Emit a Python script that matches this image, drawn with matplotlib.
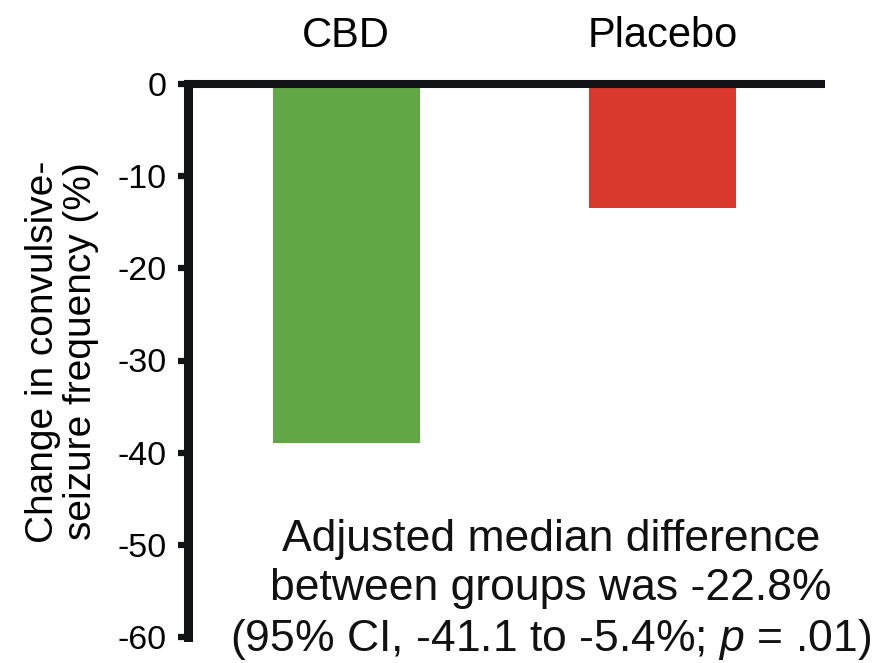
import matplotlib
matplotlib.use("Agg")
import matplotlib.pyplot as plt

# data
groups = ["CBD", "Placebo"]
change = [-38.9, -13.4]
bar_colors = ["#62A745", "#D9392C"]
yticks = [0, -10, -20, -30, -40, -50, -60]

ylabel = "Change in convulsive-\nseizure frequency (%)"
note = ("Adjusted median difference\n"
        "between groups was -22.8%\n"
        "(95% CI, -41.1 to -5.4%; $p$ = .01)")

plt.rcParams["font.family"] = ["Liberation Sans", "DejaVu Sans"]
plt.rcParams["mathtext.fontset"] = "custom"
plt.rcParams["mathtext.rm"] = "Liberation Sans"
plt.rcParams["mathtext.it"] = "Liberation Sans:italic"

fig = plt.figure(figsize=(8.96, 6.63), dpi=100)
ax = fig.add_axes([188 / 896, 1 - 637 / 663, 633 / 896, 553 / 663])

x = list(range(len(groups)))
ax.bar(x, change, width=0.465, color=bar_colors, zorder=1)

ax.set_xlim(-0.5, 1.5)
ax.set_ylim(-60, 0)

# axis lines: thick left + top (zero line)
for side in ("right", "bottom"):
    ax.spines[side].set_visible(False)
ax.spines["left"].set_linewidth(6.5)
ax.spines["top"].set_linewidth(5.8)
for side in ("left", "top"):
    ax.spines[side].set_color("#111316")
    ax.spines[side].set_capstyle("projecting")
    ax.spines[side].set_zorder(3)

ax.set_yticks(yticks)
ax.set_yticklabels([str(v) for v in yticks])
ax.tick_params(axis="y", direction="out", length=7.2, width=4.5,
               color="#111316", labelsize=24.5, pad=8)

# group names above the zero line
ax.xaxis.tick_top()
ax.set_xticks(x)
ax.set_xticklabels(groups)
ax.tick_params(axis="x", length=0, labelsize=30, pad=20)

fig.text(62 / 896, 0.47, ylabel, rotation=90, fontsize=28,
         ha="center", va="center", multialignment="center", linespacing=1.1)

ax.text(0.573, 0.084, note, transform=ax.transAxes, fontsize=32,
        ha="center", va="center", multialignment="center", linespacing=1.23,
        color="#111111")

fig.savefig("out.png", dpi=100)
